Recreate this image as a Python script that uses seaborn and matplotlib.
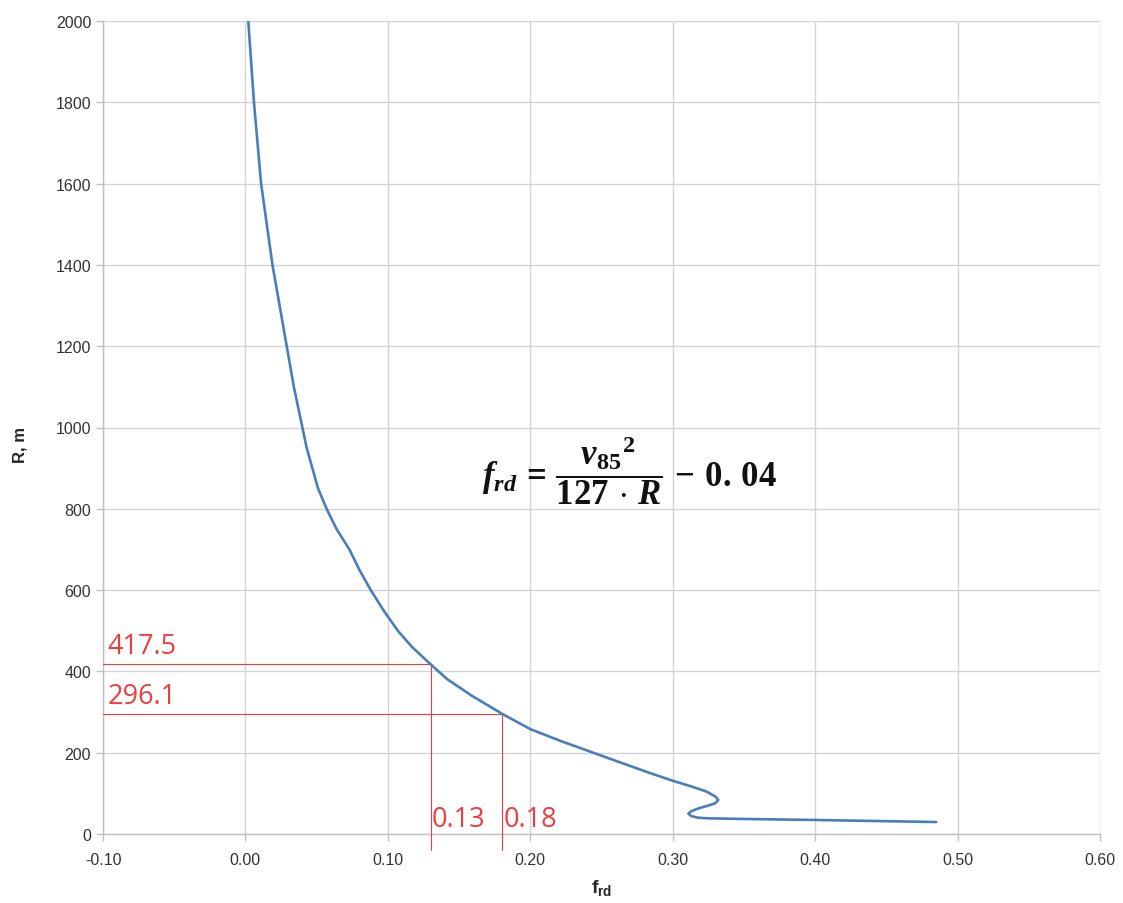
import matplotlib
matplotlib.use("Agg")
import matplotlib.pyplot as plt
import seaborn as sns
import pandas as pd

# Curve
f_rd = [0.002, 0.004, 0.006, 0.0085, 0.011, 0.015, 0.019, 0.024, 0.029, 0.034,
        0.040, 0.043, 0.047, 0.051, 0.057, 0.064, 0.073, 0.080, 0.088, 0.097,
        0.107, 0.117, 0.130, 0.142, 0.159, 0.180, 0.200, 0.222, 0.245, 0.268,
        0.284, 0.300, 0.314, 0.324, 0.330, 0.332, 0.330, 0.325, 0.318, 0.313,
        0.311, 0.313, 0.318, 0.325, 0.350, 0.400, 0.450, 0.485]
R_m = [2000, 1900, 1800, 1700, 1600, 1500, 1400, 1300, 1200, 1100,
       1000, 950, 900, 850, 800, 750, 700, 650, 600, 550,
       500, 460, 417.5, 380, 340, 296.1, 258, 228, 199, 170,
       150, 131, 116, 104, 92, 84, 76, 70, 63, 56,
       50, 44, 40, 38.5, 37, 34.5, 31.5, 29.5]

# Marked readings
mark_f = [0.13, 0.18]
mark_R = [417.5, 296.1]
mark_R_labels = ["417.5", "296.1"]
mark_f_labels = ["0.13", "0.18"]

x_ticks = [-0.10, 0.00, 0.10, 0.20, 0.30, 0.40, 0.50, 0.60]
y_ticks = list(range(0, 2001, 200))

sns.set_style("white")
plt.rcParams["font.family"] = ["Liberation Sans", "DejaVu Sans"]
plt.rcParams["mathtext.fontset"] = "custom"
plt.rcParams["mathtext.rm"] = "Liberation Serif:bold"
plt.rcParams["mathtext.it"] = "Liberation Serif:italic:bold"
plt.rcParams["mathtext.bf"] = "Liberation Serif:bold"
plt.rcParams["mathtext.sf"] = "Liberation Sans:bold"
try:
    plt.rcParams["mathtext.bfit"] = "Liberation Serif:italic:bold"
except KeyError:
    pass

fig = plt.figure(figsize=(11.23, 9.04), dpi=100)
ax = fig.add_axes([103 / 1123, 1 - 835 / 904, (1100 - 103) / 1123, (835 - 22) / 904])

df = pd.DataFrame({"f": f_rd, "R": R_m})
sns.lineplot(data=df, x="f", y="R", sort=False, estimator=None, ax=ax,
             color="#4a7ebb", linewidth=1.9, zorder=5)
ax.lines[-1].set_solid_joinstyle("round")

ax.set_xlim(-0.10, 0.60)
ax.set_ylim(0, 2000)
ax.set_xticks(x_ticks)
ax.set_yticks(y_ticks)
ax.set_xticklabels([f"{v:.2f}" for v in x_ticks])
ax.set_yticklabels([str(v) for v in y_ticks])
ax.grid(True, color="#d4d4d4", linewidth=1.0)
for s in ["top", "right"]:
    ax.spines[s].set_visible(False)
for s in ["left", "bottom"]:
    ax.spines[s].set_color("#bfbfbf")
    ax.spines[s].set_linewidth(1.0)
ax.tick_params(axis="both", labelsize=11.5, colors="#bfbfbf", labelcolor="#333333",
               length=5, width=1, direction="out", left=True, bottom=True)
ax.tick_params(axis="x", pad=8)

ax.set_ylabel("R, m", fontsize=12, fontweight="bold")
ax.yaxis.set_label_coords(-0.076, 0.48)
ax.set_xlabel(r"$\mathsf{f_{rd}}$", fontsize=14, labelpad=7)

red = "#f03c3c"
for fv, rv in zip(mark_f, mark_R):
    ax.plot([-0.10, fv], [rv, rv], color=red, linewidth=0.8, zorder=3)
    ax.plot([fv, fv], [rv, -40], color=red, linewidth=0.8, zorder=3, clip_on=False)
for rv, lab in zip(mark_R, mark_R_labels):
    ax.text(-0.097, rv + 10, lab, color=red, fontsize=19.5, ha="left", va="bottom",
            family=["Open Sans", "DejaVu Sans"])
for fv, lab in zip(mark_f, mark_f_labels):
    ax.text(fv + 0.001, 2, lab, color=red, fontsize=19.5, ha="left", va="bottom",
            family=["Open Sans", "DejaVu Sans"])

formula = (r"$\mathbfit{f}_{\mathbfit{rd}}\,=\,"
           r"\dfrac{{\mathbfit{v}_{\mathbf{85}}}^{\mathbf{2}}}{\mathbf{127}\,\cdot\,\mathbfit{R}}"
           r"\,-\,\mathbf{0.\,04}$")
ax.text(0.166, 897, formula, fontsize=25, ha="left", va="center", color="#111111", zorder=6)

fig.savefig("out.png", dpi=100)
